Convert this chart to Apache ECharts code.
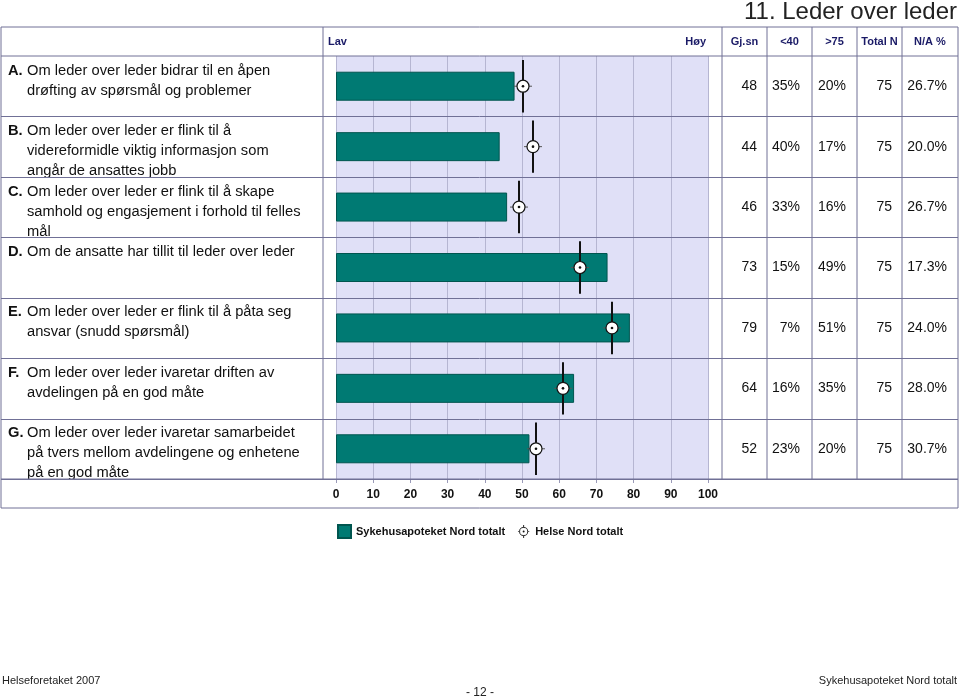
<!DOCTYPE html>
<html><head><meta charset="utf-8">
<script src="https://cdn.jsdelivr.net/npm/echarts@6/dist/echarts.min.js"></script>
<style>html,body{margin:0;padding:0;background:#fff}#c{width:960px;height:700px}</style>
</head><body><div id="c"></div>
<script>
// ---- data ----
const letters = ['A', 'B', 'C', 'D', 'E', 'F', 'G'];
const questionLines = [
  ['Om leder over leder bidrar til en åpen', 'drøfting av spørsmål og problemer'],
  ['Om leder over leder er flink til å', 'videreformidle viktig informasjon som', 'angår de ansattes jobb'],
  ['Om leder over leder er flink til å skape', 'samhold og engasjement i forhold til felles', 'mål'],
  ['Om de ansatte har tillit til leder over leder'],
  ['Om leder over leder er flink til å påta seg', 'ansvar (snudd spørsmål)'],
  ['Om leder over leder ivaretar driften av', 'avdelingen på en god måte'],
  ['Om leder over leder ivaretar samarbeidet', 'på tvers mellom avdelingene og enhetene', 'på en god måte']
];
const unitScores = [48, 44, 46, 73, 79, 64, 52];              // Sykehusapoteket Nord totalt
const regionScores = [50.3, 53, 49.2, 65.6, 74.2, 61, 53.8];   // Helse Nord totalt
const colMean = ['48', '44', '46', '73', '79', '64', '52'];
const colBelow40 = ['35%', '40%', '33%', '15%', '7%', '16%', '23%'];
const colAbove75 = ['20%', '17%', '16%', '49%', '51%', '35%', '20%'];
const colTotalN = ['75', '75', '75', '75', '75', '75', '75'];
const colNA = ['26.7%', '20.0%', '26.7%', '17.3%', '24.0%', '28.0%', '30.7%'];
const columnHeaders = ['Gj.sn', '<40', '>75', 'Total N', 'N/A %'];
const seriesNames = ['Sykehusapoteket Nord totalt', 'Helse Nord totalt'];
const titleText = '11. Leder over leder';

// ---- layout/styles ----
const FONT = "'Liberation Sans', Arial, sans-serif";
const LINE = '#707096';
const NAVY = '#1a1a66';
const TEAL = '#007a73';
const gridTop = 56, gridBottomY = 479, gridLeft = 336, gridRightX = 708;
const colLines = [722, 767, 812, 857, 902, 958];
const colRightEdges = [757, 800, 846, 892, 947];
const columns = [colMean, colBelow40, colAbove75, colTotalN, colNA];
const LBL = 14.7;

const chart = echarts.init(document.getElementById('c'), null, {renderer: 'canvas'});

const yAxes = [{
  type: 'category', data: letters, inverse: true, gridIndex: 0,
  axisLine: {show: false}, axisTick: {show: false}, splitLine: {show: false},
  axisLabel: {
    interval: 0, align: 'left', margin: gridLeft - 8, padding: [9, 0, 0, 0],
    formatter: function (v, i) {
      const ls = questionLines[i].slice();
      while (ls.length < 3) ls.push(' ');
      return ls.map((t, k) => (k === 0 ? '{b|' + v + '.}' : '{i| }') + '{t|' + t + '}').join('\n');
    },
    rich: {
      b: {fontFamily: FONT, fontSize: LBL, fontWeight: 'bold', color: '#111', width: 19, lineHeight: 20},
      i: {fontFamily: FONT, fontSize: LBL, width: 19, lineHeight: 20},
      t: {fontFamily: FONT, fontSize: LBL, color: '#111', lineHeight: 20}
    }
  }
}];
columns.forEach((col, ci) => {
  yAxes.push({
    type: 'category', data: letters, inverse: true, gridIndex: 0, position: 'right',
    offset: colRightEdges[ci] - gridRightX,
    axisLine: {show: false}, axisTick: {show: false}, splitLine: {show: false},
    axisLabel: {
      interval: 0, align: 'right', margin: 0,
      fontFamily: FONT, fontSize: 14, color: '#111',
      formatter: (v, i) => col[i]
    }
  });
});

const crossSvg = "<svg xmlns='http://www.w3.org/2000/svg' width='16' height='16'>" +
  "<line x1='8' y1='0' x2='8' y2='16' stroke='#222' stroke-width='1.2'/>" +
  "<line x1='1' y1='8' x2='15' y2='8' stroke='#444' stroke-width='1'/>" +
  "<circle cx='8' cy='8' r='5' fill='#fff' stroke='#111' stroke-width='1.1'/>" +
  "<circle cx='8' cy='8' r='1.2' fill='#111'/></svg>";
const crossIcon = 'image://data:image/svg+xml;charset=utf-8,' + encodeURIComponent(crossSvg);

function gLine(x1, y1, x2, y2) {
  return {type: 'line', z: 100, silent: true, shape: {x1, y1, x2, y2}, style: {stroke: LINE, lineWidth: 1}};
}
function gText(x, y, text, opts) {
  return {type: 'text', z: 100, silent: true, x, y,
    style: Object.assign({text, fill: '#111', font: '12px ' + FONT, textAlign: 'left', textVerticalAlign: 'middle'}, opts || {})};
}

const graphics = [
  gLine(1, 27, 958, 27), gLine(1, 56, 958, 56), gLine(1, 479, 958, 479), gLine(1, 508, 958, 508),
  gLine(1, 27, 1, 508), gLine(958, 27, 958, 508), gLine(323, 27, 323, 479)
];
colLines.slice(0, 5).forEach(x => graphics.push(gLine(x, 27, x, 479)));
graphics.push(gText(328, 42, 'Lav', {font: 'bold 11px ' + FONT, fill: NAVY}));
graphics.push(gText(706, 42, 'Høy', {font: 'bold 11px ' + FONT, fill: NAVY, textAlign: 'right'}));
columnHeaders.forEach((h, i) => {
  const cx = (colLines[i] + colLines[i + 1]) / 2;
  graphics.push(gText(cx, 42, h, {font: 'bold 11px ' + FONT, fill: NAVY, textAlign: 'center'}));
});
graphics.push(gText(957, 12, titleText, {font: '24px ' + FONT, fill: '#222', textAlign: 'right'}));
graphics.push(gText(2, 681, 'Helseforetaket 2007', {font: '11px ' + FONT, fill: '#222'}));
graphics.push(gText(957, 681, 'Sykehusapoteket Nord totalt', {font: '11px ' + FONT, fill: '#222', textAlign: 'right'}));
graphics.push(gText(480, 693, '- 12 -', {font: '12px ' + FONT, fill: '#222', textAlign: 'center'}));

const option = {
  animation: false,
  backgroundColor: '#fff',
  grid: {left: gridLeft, right: 960 - gridRightX, top: gridTop, bottom: 700 - gridBottomY,
    show: true, backgroundColor: '#e0e0f7', borderWidth: 0, containLabel: false},
  xAxis: {
    type: 'value', min: 0, max: 100, interval: 10,
    axisLine: {show: false},
    axisTick: {show: true, length: 4, lineStyle: {color: '#9a9ab8'}},
    splitLine: {show: true, lineStyle: {color: '#b6b6d2', width: 1}},
    axisLabel: {margin: 10, fontFamily: FONT, fontSize: 12, fontWeight: 'bold', color: '#111'}
  },
  yAxis: yAxes,
  legend: {
    left: 337, top: 524, itemWidth: 13, itemHeight: 13, itemGap: 12, padding: 0,
    textStyle: {fontFamily: FONT, fontSize: 11, fontWeight: 'bold', color: '#111'},
    data: [{name: seriesNames[0], icon: 'rect'}, {name: seriesNames[1], icon: crossIcon}]
  },
  graphic: graphics,
  series: [
    {
      name: 'rows', type: 'custom', silent: true, clip: false, z: 5,
      data: letters.map((l, i) => [0, i]),
      encode: {x: 0, y: 1},
      renderItem: function (params, api) {
        const p = api.coord([0, api.value(1)]);
        const h = api.size([0, 1])[1];
        const y = Math.round(p[1] + h / 2) + 0.5;
        return {type: 'line', shape: {x1: 1, y1: y, x2: 958, y2: y}, style: {stroke: LINE, lineWidth: 1}};
      }
    },
    {
      name: seriesNames[0], type: 'bar', data: unitScores, barWidth: 29, z: 3,
      itemStyle: {color: TEAL, borderColor: '#00554f', borderWidth: 1}
    },
    {
      name: seriesNames[1], type: 'custom', clip: false, z: 10,
      itemStyle: {color: '#111'},
      data: regionScores.map((v, i) => [v, i]),
      encode: {x: 0, y: 1},
      renderItem: function (params, api) {
        const p = api.coord([api.value(0), api.value(1)]);
        const h = api.size([0, 1])[1];
        const x = Math.round(p[0]), y = p[1];
        return {type: 'group', children: [
          {type: 'line', shape: {x1: x, y1: y - h / 2 + 4, x2: x, y2: y + h / 2 - 4}, style: {stroke: '#111', lineWidth: 2}},
          {type: 'line', shape: {x1: x - 9, y1: y, x2: x + 9, y2: y}, style: {stroke: '#555', lineWidth: 1}},
          {type: 'circle', shape: {cx: x, cy: y, r: 6}, style: {fill: '#fff', stroke: '#111', lineWidth: 1.2}},
          {type: 'circle', shape: {cx: x, cy: y, r: 1.3}, style: {fill: '#111'}}
        ]};
      }
    }
  ]
};
chart.setOption(option);
</script>
</body></html>
